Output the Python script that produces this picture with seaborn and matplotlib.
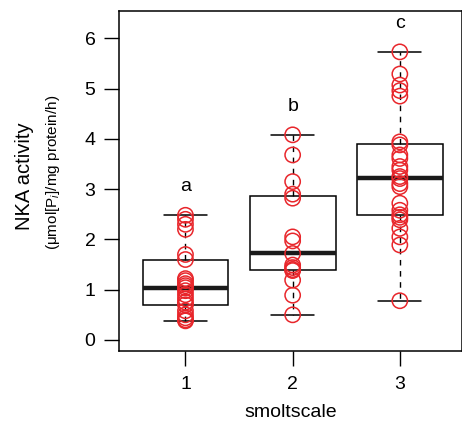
import numpy as np
import pandas as pd
import matplotlib
matplotlib.use("Agg")
import matplotlib.pyplot as plt
import seaborn as sns

# --- data ---
groups = ["1", "2", "3"]
letters = ["a", "b", "c"]
nka_1 = [0.38, 0.40, 0.44, 0.50, 0.58, 0.70, 0.75, 0.82, 0.90, 0.98, 1.04,
         1.08, 1.12, 1.18, 1.22, 1.60, 1.70, 2.20, 2.30, 2.40, 2.48]
nka_2 = [0.50, 0.89, 1.19, 1.38, 1.40, 1.44, 1.49, 1.72, 1.97, 2.05, 2.82,
         2.90, 3.15, 3.68, 4.08]
nka_3 = [0.78, 1.89, 2.05, 2.22, 2.39, 2.44, 2.49, 2.58, 2.72, 3.05, 3.11,
         3.21, 3.25, 3.38, 3.45, 3.61, 3.68, 3.88, 3.94, 4.85, 4.96, 5.07,
         5.29, 5.73]
yticks = [0, 1, 2, 3, 4, 5, 6]

RED = "#e8262b"

df = pd.DataFrame({
    "smoltscale": ["1"] * len(nka_1) + ["2"] * len(nka_2) + ["3"] * len(nka_3),
    "nka": nka_1 + nka_2 + nka_3,
})

sns.set_style("ticks")
plt.rcParams["font.family"] = ["Liberation Sans", "DejaVu Sans"]
plt.rcParams["mathtext.fontset"] = "custom"
plt.rcParams["mathtext.rm"] = "Liberation Sans"
plt.rcParams["mathtext.it"] = "Liberation Sans:italic"
for k in ["text.color", "axes.labelcolor", "xtick.color", "ytick.color",
          "axes.edgecolor"]:
    plt.rcParams[k] = "black"

fig = plt.figure(figsize=(4.62, 4.26), dpi=100)
ax = fig.add_axes([0.2576, 0.176, 0.7424, 0.799])

sns.boxplot(data=df, x="smoltscale", y="nka", order=groups, ax=ax,
            width=0.8, whis=(0, 100), color="white", linecolor="black",
            linewidth=1.1, showfliers=False,
            medianprops=dict(color="#1a1a1a", linewidth=3.2),
            whiskerprops=dict(linestyle=(0, (4, 4)), linewidth=1.0),
            capprops=dict(linewidth=1.1))

sns.stripplot(data=df, x="smoltscale", y="nka", order=groups, ax=ax,
              jitter=False, size=11, marker="o", facecolor="none",
              edgecolor=RED, linewidth=1.1, zorder=5)

# significance letters above each group
for i, (g, lab) in enumerate(zip([nka_1, nka_2, nka_3], letters)):
    ax.text(i, max(g) + 0.40, lab, ha="center", va="bottom", fontsize=14)

ax.set_xlim(-0.62, 2.58)
ax.set_ylim(-0.22, 6.55)
ax.set_yticks(yticks)
ax.set_xlabel("smoltscale", fontsize=14, labelpad=8)
ax.set_ylabel("")
ax.tick_params(axis="both", labelsize=14, length=11, width=1.0)
ax.tick_params(axis="y", pad=6)
ax.tick_params(axis="x", pad=7)
for s in ax.spines.values():
    s.set_visible(True)
    s.set_linewidth(1.1)

fig.text(0.052, 0.587, "NKA activity", rotation=90, ha="center", va="center",
         fontsize=14.5)
fig.text(0.115, 0.596, r"(μmol[P$_i$]/mg protein/h)", rotation=90,
         ha="center", va="center", fontsize=11)

fig.savefig("out.png", dpi=100)
